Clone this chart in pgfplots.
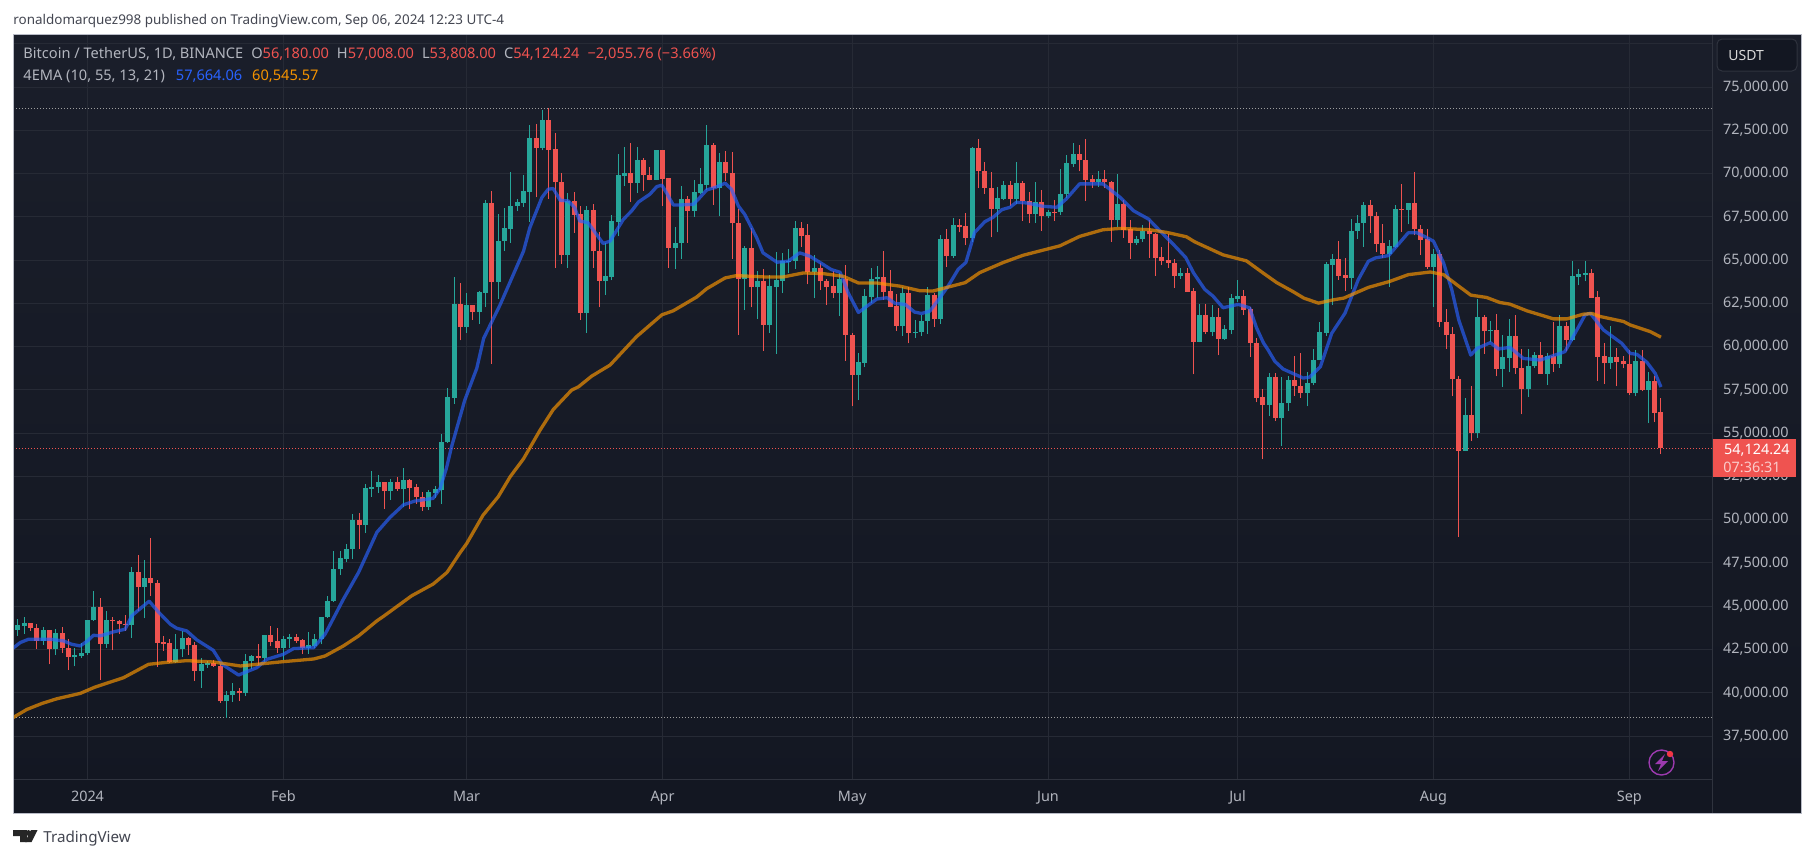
\documentclass[border=0pt]{standalone}
\usepackage{fontspec}
\setmainfont{Noto Sans}
\usepackage{pgfplots}
\usepackage{pgfplotstable}
\pgfplotsset{compat=1.18}
\definecolor{bgtop}{HTML}{1A1E2A}
\definecolor{bgbot}{HTML}{131722}
\definecolor{gridc}{HTML}{262A35}
\definecolor{sepc}{HTML}{2F333E}
\definecolor{frame}{HTML}{B8BBC6}
\definecolor{lab}{HTML}{B2B5BE}
\definecolor{up}{HTML}{26A69A}
\definecolor{dn}{HTML}{EF5350}
\definecolor{emab}{HTML}{2962FF}
\definecolor{emao}{HTML}{FF9800}
\definecolor{legb}{HTML}{2962FF}
\definecolor{lego}{HTML}{F59300}
\definecolor{ttl}{HTML}{434651}
\pgfplotstableread{
d o h l c
-11 43628 44240 43300 43861
-10 43861 44398 43412 43997
-9 43997 43997 43590 43739
-8 43739 43950 42520 43016
-7 43016 43794 42765 43613
-6 43613 43625 41638 42520
-5 42520 43683 42167 43442
-4 43442 43804 42318 42580
-3 42580 43124 41300 42070
-2 42070 42600 41520 42150
-1 42150 42899 42000 42283
0 42283 44184 42180 44179
1 44179 45879 44148 44946
2 44946 45500 40750 42845
3 42845 44729 42613 44151
4 44151 44357 42450 44145
5 44145 44214 43397 43968
6 43968 44480 43572 43929
7 43929 47248 43175 46951
8 46951 47972 44748 46110
9 46110 47689 44300 46632
10 46632 48969 45606 46314
11 46314 46515 41500 42893
12 42893 43257 42436 42842
13 42842 43079 41720 41796
14 41796 43400 41718 42511
15 42511 43578 42050 43154
16 43154 43198 42200 42742
17 42742 42930 40683 41262
18 41262 42000 40280 41618
19 41618 41850 41446 41665
20 41665 41884 41500 41545
21 41545 41689 39431 39507
22 39507 40129 38555 39845
23 39845 40555 39484 40082
24 40082 40300 39550 39961
25 39961 42246 39825 41823
26 41823 42200 41394 42120
27 42120 42842 41620 42031
28 42031 43305 41804 43302
29 43302 43882 42683 42941
30 42941 43745 42276 42580
31 42580 43285 41884 43082
32 43082 43422 42584 43200
33 43200 43380 42890 43011
34 43011 43119 42222 42582
35 42582 43494 42258 42708
36 42708 43399 42574 43098
37 43098 44396 42788 44349
38 44349 45614 44331 45288
39 45288 48200 45242 47132
40 47132 48170 46800 47751
41 47751 48592 47557 48293
42 48293 50334 47700 49958
43 49958 50368 48300 49699
44 49699 52043 49225 51795
45 51795 52816 51314 51880
46 51880 52572 51550 52124
47 52124 52162 50625 51642
48 51642 52377 51163 52137
49 52137 52488 51677 51774
50 51774 52985 50760 52258
51 52258 52366 50625 51849
52 51849 52077 50932 51288
53 51283 51584 50525 50744
54 50744 51696 50584 51568
55 51568 51960 51280 51728
56 51729 54938 50901 54476
57 54476 57588 54450 57037
58 57037 64000 56691 62432
59 62432 63676 60364 61130
60 61130 63114 60777 62387
61 62387 62433 61561 61987
62 61987 63231 61320 63113
63 63113 68499 62300 68245
64 68245 69000 59005 63724
65 63724 67641 62779 66074
66 66074 67980 65551 66823
67 66823 70080 66000 68124
68 68124 68541 67861 68313
69 68313 69887 68094 68955
70 68955 72800 67194 72000
71 72000 72850 68620 71470
72 71470 73650 71333 73072
73 73072 73777 68555 71388
74 71388 72357 64533 69499
75 69499 70043 64780 65300
76 65300 68904 64533 68393
77 68390 68957 66565 67609
78 67610 68124 61555 61937
79 61938 68100 60775 67840
80 67840 68240 64529 65501
81 65501 66650 62260 63796
82 63796 65999 63000 64037
83 64037 67622 63825 67211
84 67210 71150 66385 69880
85 69880 71561 69280 69988
86 69988 71769 68359 69469
87 69469 71552 68903 70780
88 70780 70916 69009 69897
89 69897 70355 69601 69645
90 69645 71377 69624 71333
91 71333 71342 68110 69702
92 69702 69708 64550 65709
93 65709 66914 64493 65970
94 65970 69291 65064 68488
95 68488 68725 66011 67837
96 67837 69629 67491 68896
97 68896 70326 68824 69360
98 69360 72797 69043 71620
99 71620 71758 68210 69146
100 69146 71172 67518 70631
101 70631 71305 69567 70006
102 70006 71227 65086 67116
103 67116 67931 60660 63924
104 63924 65840 62134 65661
105 65661 66867 62274 63419
106 63419 64365 61600 63793
107 63793 64499 59768 61277
108 61277 64117 60803 63470
109 63470 65450 59600 63818
110 63818 65419 63090 64940
111 64941 65665 64228 64941
112 64941 67232 64500 66819
113 66819 67183 65765 66414
114 66414 67075 63589 64289
115 64289 65297 62794 64498
116 64498 64820 63297 63770
117 63770 63923 62391 63461
118 63461 64370 62781 63118
119 63118 64228 61765 63866
120 63866 64734 59191 60672
121 60672 60780 56552 58364
122 58364 59625 56911 59060
123 59060 63333 58811 62882
124 62882 64540 62541 63892
125 63892 64646 62822 64012
126 64012 65500 62700 63165
127 63165 64422 62261 62312
128 62312 63052 60888 61193
129 61193 63421 60630 63074
130 63074 63469 60187 60799
131 60799 61515 60487 60825
132 60825 61818 60630 61483
133 61484 63450 60749 62940
134 62940 63118 61142 61577
135 61577 66444 61319 66206
136 66206 66800 64600 65235
137 65236 67451 65106 67024
138 67024 67400 66600 66915
139 66915 67700 65857 66274
140 66274 71515 66060 71446
141 71446 71979 69162 70148
142 70148 70666 68832 69166
143 69166 70096 66312 67970
144 67970 69250 66600 68549
145 68549 69563 68450 69290
146 69290 69562 68128 68507
147 68507 70687 68250 69436
148 69436 69591 67277 68398
149 68398 68935 67124 67652
150 67652 69500 67128 68352
151 68352 69044 66670 67540
152 67540 67900 67428 67766
153 67766 68460 67257 67765
154 67765 70288 67612 68809
155 68809 71063 68567 70567
156 70567 71758 70383 71082
157 71082 71625 70119 70757
158 70757 71997 68420 69648
159 69648 69914 69168 69500
160 69500 70146 69232 69644
161 69644 70195 69172 69508
162 69508 69549 66051 67321
163 67321 69999 66902 68243
164 68243 68449 66304 66756
165 66756 67294 65078 66011
166 66011 66402 65866 66191
167 66191 66998 66034 66639
168 66639 67298 65130 66490
169 66490 66556 64066 65140
170 65140 65738 64693 64960
171 64960 66482 64558 64828
172 64828 65066 63379 64096
173 64096 64520 63929 64252
174 64252 64527 63178 63180
175 63180 63369 58402 60277
176 60277 62435 60239 61806
177 61806 62480 60712 60864
178 60864 62389 60606 61706
179 61706 62225 59500 60427
180 60427 61224 60383 60986
181 60986 63058 60712 62772
182 62773 63861 62571 62899
183 62900 63288 61806 62135
184 62135 62285 59400 60208
185 60208 60498 56771 57050
186 57050 57546 53485 56628
187 56628 58475 56018 58230
188 58230 58449 55724 55857
189 55857 58236 54260 56714
190 56714 58296 56289 58050
191 58050 59470 57157 57725
192 57725 59650 57050 57339
193 57339 58526 56542 57889
194 57889 59850 57756 59204
195 59204 61420 59204 60797
196 60797 64900 60632 64724
197 64724 65326 62378 65043
198 65043 66128 63854 64087
199 64087 65133 63238 63987
200 63987 67386 63300 66660
201 66660 67598 66222 67139
202 67139 68366 65777 68165
203 68165 68474 66559 67532
204 67532 67750 65441 65936
205 65936 67102 65111 65372
206 65372 66175 63456 65777
207 65777 68200 65722 67907
208 67907 69399 66650 67896
209 67896 68318 67066 68249
210 68249 70079 66428 66784
211 66784 67000 65302 66188
212 66188 66810 64511 64628
213 64628 65659 62302 65354
214 65354 65596 61130 61415
215 61415 62198 59850 60680
216 60680 61117 57122 58116
217 58116 58305 49000 53991
218 53991 57029 53962 56034
219 56034 57736 54558 55027
220 55027 62745 54730 61710
221 61710 61800 59575 60880
222 60880 61488 60288 60945
223 60945 61858 58286 58719
224 58719 60680 57688 59354
225 59354 61572 58506 60609
226 60609 61800 58433 58739
227 58739 59850 56078 57560
228 57560 59847 57110 58874
229 58874 59700 58785 59491
230 59491 60284 58408 58427
231 58427 59617 57787 59438
232 59438 61400 58548 59013
233 59013 61820 58783 61156
234 61156 61400 59724 60375
235 60375 64955 60342 64037
236 64037 64494 63531 64157
237 64157 64955 63775 64220
238 64220 64481 62800 62834
239 62834 63212 58034 59415
240 59415 60234 57860 59034
241 59034 61166 58700 59359
242 59359 59944 57701 59123
243 59123 59432 58745 58973
244 58973 59813 57201 57301
245 57301 59809 57120 59132
246 59132 59809 57415 57487
247 57487 58519 55606 57970
248 57970 58327 55643 56180
249 56180 57008 53808 54124.24
}\candles
\pgfplotstableread{
d p
-11.8 42570
-10.65 42898
-9.34 43091
-8 43091
-5.9 43091
-3.8 42995
-2.5 42801
-1.16 42705
0 42995
0.95 43323
2 43284
4.1 43516
5.96 43671
7 44444
9.76 45294
11.2 44675
13.1 43961
14.1 43729
15.7 43574
17.3 43053
19.9 42454
21.3 41642
23.9 41024
26.8 41449
28.4 41932
31 42222
32.6 42550
35.8 42608
37.6 43381
40.5 45410
42.9 46955
45.8 49274
47.9 50143
50 50858
51.8 51076
54.7 51231
55.8 51811
56.8 52972
57.6 54195
59.7 56904
61.6 58742
62.7 60484
65.3 62419
69 65515
70 66869
71.9 68611
72.9 69094
73.7 69133
74.8 68456
76.1 68417
77.1 68030
77.9 67256
79.2 67159
81.6 65960
82.7 66095
84.8 67353
86.1 67837
87.2 68359
89 68804
90.1 69249
90.9 69327
91.6 68901
92.7 68185
93.8 68185
95.9 68224
96.9 68611
98 69056
99.3 69191
100.9 69443
101.9 69094
103 68127
104 67643
105.9 66289
106.9 65418
109.1 64876
110.9 64934
112.7 65418
114.3 65224
116.2 64799
117.7 64450
119.1 64296
120.4 63096
122 61974
123.3 62322
124.9 62748
126.5 62825
127.8 62496
129.4 62438
130.9 61993
132 61916
133.3 62051
134.9 62825
136.2 63502
137.8 64470
139 64857
140.4 66598
142 67217
143.3 67469
144.7 67914
146 68050
147 68340
148.6 68301
151.2 68108
153.4 68050
154.9 68533
157 69404
160.7 69404
163.4 68630
165.5 67856
167.9 67372
169.7 66695
171.8 65921
173.8 65147
175 64276
176.8 63309
178.1 62922
179.7 62245
182.1 62438
183.9 62245
185 61084
186.1 60213
186.8 59826
187.9 59149
189.2 58704
192.4 58181
193.4 58239
195.1 58835
196.9 60770
199 61931
201.1 63866
202.7 64930
203.8 65124
205.9 65259
209 66575
210.4 66575
211.7 66343
213 66091
214.6 64834
215.9 63286
217 61544
218.9 59512
219.9 59899
222 60228
223.3 59861
225.1 59957
227.2 59319
229.9 59222
233.8 59706
235.4 60770
237 61834
237.8 61931
239.9 60964
242.8 60190
244.1 59609
245.2 59551
246.8 59087
248.1 58448
249 57664.06
}\emafast
\pgfplotstableread{
d p
-11.8 38560
-9.6 39034
-7.2 39382
-4.85 39652
-1.16 39961
1.2 40328
5.7 40869
9.65 41642
12.55 41758
15.7 41855
19.9 41777
24.2 41546
27.8 41681
31 41797
35.8 41951
37.6 42125
40.5 42705
42.9 43284
45.8 44154
46.8 44405
51.3 45603
54.7 46279
56.9 46955
59 48114
60 48618
62.6 50263
65 51327
66.9 52488
69 53518
71.6 55162
73.7 56362
76.6 57484
77.7 57678
79.8 58297
82.7 58936
86.9 60580
90.9 61838
92.7 62070
96.4 62864
98 63347
100.9 63967
102.7 64102
107.2 64025
110.1 64025
113.3 64257
116.4 64218
119.6 64063
122 63676
124.9 63676
128.6 63490
131.7 63231
133.8 63212
138.9 63696
141.2 64276
144.9 64857
148.1 65282
153.9 65824
157 66366
160.7 66753
163.4 66830
168.1 66753
170.8 66598
173.9 66347
175.2 66057
179.7 65302
183.4 64954
186.1 64238
188.2 63696
190.8 63173
192.5 62800
194.8 62511
197.2 62705
198.8 62802
202.7 63421
206.1 63769
209 64156
212.5 64311
214.6 64156
216.7 63576
218.9 62976
221.4 62840
223.5 62550
225.1 62454
227.8 62066
232 61602
234.1 61602
236.7 61873
238.1 61912
239.4 61738
243.1 61448
244.1 61254
247.3 60867
249 60545.57
}\emaslow
\begin{document}
\begin{tikzpicture}
\begin{scope}[x=0.5pt,y=-0.5pt]
\useasboundingbox (0,0) rectangle (1815,858);
\fill[white] (0,0) rectangle (1815,858);
\shade[top color=bgtop,bottom color=bgbot] (13,34) rectangle (1801,813);
\draw[sepc,line width=0.5pt] (1712,779) -- (1712,813);
\node[anchor=base west,inner sep=0,text=ttl,font=\fontsize{6.72pt}{8pt}\selectfont] at (13,24) {ronaldomarquez998 published on TradingView.com, Sep 06, 2024 12:23 UTC-4};
\end{scope}
\begin{axis}[
  at={(6.5pt,-389.5pt)},anchor=south west,scale only axis,
  width=849.5pt,height=372.5pt,
  xmin=-11.79,xmax=257.08,ymin=35015,ymax=78062,
  scaled y ticks=false,scaled x ticks=false,
  axis line style={draw=sepc,line width=0.5pt},
  major tick length=0pt,
  grid=major,grid style={draw=gridc,line width=0.5pt},
  xtick={0,31,60,91,121,152,182,213,244},
  xticklabels={\textbf{2024},Feb,Mar,Apr,May,Jun,Jul,Aug,Sep},
  ytick={37500,40000,42500,45000,47500,50000,52500,55000,57500,60000,62500,65000,67500,70000,72500,75000,77500},
  yticklabels={{37,500.00},{40,000.00},{42,500.00},{45,000.00},{47,500.00},{50,000.00},{52,500.00},{55,000.00},{57,500.00},{60,000.00},{62,500.00},{65,000.00},{67,500.00},{70,000.00},{72,500.00},{75,000.00},{}},
  yticklabel pos=right,
  y tick label style={anchor=east,inner sep=0pt,xshift=38.5pt,text=lab,font=\fontsize{7.2pt}{8pt}\selectfont},
  x tick label style={anchor=base,inner sep=0pt,yshift=-11pt,text=lab,font=\fontsize{7.2pt}{8pt}\selectfont},
  clip=true,
  unbounded coords=discard,filter discard warning=false,
]
% reference lines
\addplot[forget plot,draw=white!62!black,line width=0.4pt,dash pattern=on 0.5pt off 1pt] coordinates {(-11.79,73777) (257.08,73777)};
\addplot[forget plot,draw=white!62!black,line width=0.4pt,dash pattern=on 0.5pt off 1pt] coordinates {(-11.79,38555) (257.08,38555)};
\addplot[forget plot,draw=dn,line width=0.4pt,dash pattern=on 0.5pt off 1pt] coordinates {(-11.79,54124.24) (257.08,54124.24)};
% wicks and bodies
\addplot[forget plot,draw=none,mark=none,x filter/.expression={\thisrow{c}>=\thisrow{o} ? x : nan},error bars/.cd,y dir=plus,y explicit,error mark=none,error bar style={draw=up,solid,line width=0.5pt}]
  table[x=d,y=l,y error plus expr=\thisrow{h}-\thisrow{l}] {\candles};
\addplot[forget plot,draw=none,mark=none,x filter/.expression={\thisrow{c}<\thisrow{o} ? x : nan},error bars/.cd,y dir=plus,y explicit,error mark=none,error bar style={draw=dn,solid,line width=0.5pt}]
  table[x=d,y=l,y error plus expr=\thisrow{h}-\thisrow{l}] {\candles};
\addplot[forget plot,draw=none,mark=none,x filter/.expression={\thisrow{c}>=\thisrow{o} ? x : nan},error bars/.cd,y dir=plus,y explicit,error mark=none,error bar style={draw=up,solid,line width=2.5pt}]
  table[x=d,y=o,y error plus expr=\thisrow{c}-\thisrow{o}+25] {\candles};
\addplot[forget plot,draw=none,mark=none,x filter/.expression={\thisrow{c}<\thisrow{o} ? x : nan},error bars/.cd,y dir=plus,y explicit,error mark=none,error bar style={draw=dn,solid,line width=2.5pt}]
  table[x=d,y=c,y error plus expr=\thisrow{o}-\thisrow{c}+25] {\candles};
% moving averages
\addplot[forget plot,draw=emab,opacity=0.66,line width=1.65pt,line join=round] table[x=d,y=p] {\emafast};
\addplot[forget plot,draw=emao,opacity=0.65,line width=1.65pt,line join=round] table[x=d,y=p] {\emaslow};
\end{axis}
\begin{scope}[x=0.5pt,y=-0.5pt]
\draw[frame,line width=0.5pt] (13,34) rectangle (1801,813);
% legend
\node[anchor=base west,inner sep=0,text=lab,font=\fontsize{7.3pt}{8pt}\selectfont] at (23,58) {Bitcoin / TetherUS, 1D, BINANCE\hspace{4pt}O\textcolor{dn}{56,180.00}\hspace{4pt}H\textcolor{dn}{57,008.00}\hspace{4pt}L\textcolor{dn}{53,808.00}\hspace{4pt}C\textcolor{dn}{54,124.24}\hspace{4pt}\textcolor{dn}{−2,055.76 (−3.66\%)}};
\node[anchor=base west,inner sep=0,text=lab,font=\fontsize{7.3pt}{8pt}\selectfont] at (23,80) {4EMA (10, 55, 13, 21)\hspace{5.5pt}\textcolor{legb}{57,664.06}\hspace{5pt}\textcolor{lego}{60,545.57}};
% USDT button
\draw[sepc,fill=bgbot,line width=0.5pt,rounded corners=2.5pt] (1717,39) rectangle (1797,71);
\node[anchor=base west,inner sep=0,text=white!85!black,font=\fontsize{7pt}{8pt}\selectfont] at (1728,60) {USDT};
% last price box
\fill[dn] (1713,439) rectangle (1796,477);
\node[anchor=base east,inner sep=0,text=white,font=\bfseries\fontsize{7.2pt}{8pt}\selectfont] at (1790,454) {54,124.24};
\node[anchor=base east,inner sep=0,text=white!70!dn,font=\fontsize{7.2pt}{8pt}\selectfont] at (1781,472) {07:36:31};
% lightning icon
\draw[color={rgb,255:red,156;green,58;blue,175},line width=0.7pt] (1661.5,762.5) circle (12.5);
\fill[color={rgb,255:red,156;green,58;blue,175}] (1665,754) -- (1655,764) -- (1661,764) -- (1658,771) -- (1668,761) -- (1662,761) -- cycle;
\fill[color={rgb,255:red,242;green,54;blue,69}] (1670,754) circle (3.2);
% logo
\fill[black!85!white] (13,830) -- (27,830) -- (27,842) -- (20,842) -- (20,836) -- (13,836) -- cycle;
\fill[black!85!white] (28.5,833) circle (2.9);
\fill[black!85!white] (31,830) -- (37.5,830) -- (31.5,842) -- (25,842) -- cycle;
\node[anchor=base west,inner sep=0,text=ttl,font=\fontsize{7.6pt}{8pt}\selectfont] at (43,842) {TradingView};
\end{scope}
\end{tikzpicture}
\end{document}
